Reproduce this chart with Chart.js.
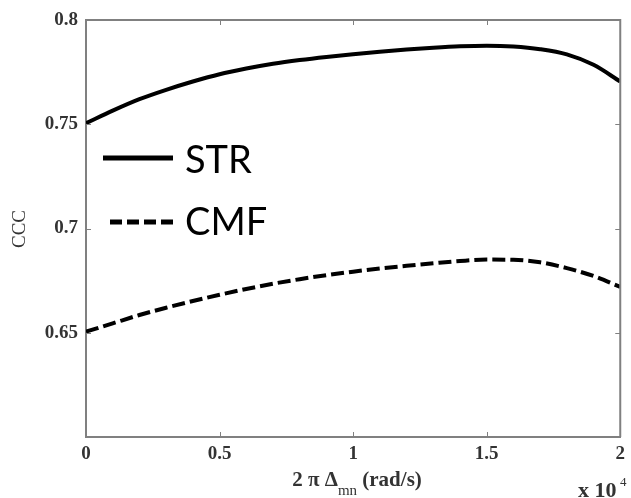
<!DOCTYPE html>
<html>
<head>
<meta charset="utf-8">
<script src="https://cdn.jsdelivr.net/npm/chart.js@4"></script>
<style>
  html, body { margin: 0; padding: 0; background: #fff; }
  #chart { display: block; }
</style>
</head>
<body>
<canvas id="chart" width="631" height="498"></canvas>
<script>
// x values in units of 10^4 rad/s
const xValues = [0, 0.1, 0.2, 0.3, 0.4, 0.5, 0.6, 0.7, 0.8, 0.9, 1.0,
                 1.1, 1.2, 1.3, 1.4, 1.5, 1.6, 1.7, 1.8, 1.9, 2.0];
const strValues = [0.7505, 0.7565, 0.7620, 0.7665, 0.7705, 0.7740, 0.7767, 0.7790, 0.7808, 0.7823, 0.7836,
                   0.7848, 0.7858, 0.7867, 0.7874, 0.7877, 0.7873, 0.7860, 0.7835, 0.7785, 0.7705];
const cmfValues = [0.6505, 0.6545, 0.6585, 0.6620, 0.6652, 0.6682, 0.6710, 0.6735, 0.6757, 0.6776, 0.6793,
                   0.6808, 0.6821, 0.6833, 0.6844, 0.6851, 0.6850, 0.6838, 0.6810, 0.6772, 0.6720];
const xTicks = [0, 0.5, 1, 1.5, 2];
const yTicks = [0.65, 0.7, 0.75, 0.8];
const seriesLabels = ['STR', 'CMF'];

const AXIS_GRAY = '#808080';

const toPoints = (ys) => xValues.map((x, i) => ({ x, y: ys[i] }));

// Draws the box, inward ticks, titles and the in-plot legend.
const decorations = {
    id: 'decorations',
    afterDraw(chart) {
        const { ctx, chartArea: a, scales: { x, y } } = chart;
        ctx.save();

        // top and right border of the box
        ctx.strokeStyle = AXIS_GRAY;
        ctx.lineWidth = 2;
        ctx.beginPath();
        ctx.moveTo(a.left, a.top);
        ctx.lineTo(a.right, a.top);
        ctx.lineTo(a.right, a.bottom);
        ctx.stroke();

        // inward ticks on every side
        ctx.lineWidth = 1;
        ctx.beginPath();
        for (const v of xTicks) {
            const px = Math.round(x.getPixelForValue(v)) + 0.5;
            ctx.moveTo(px, a.bottom); ctx.lineTo(px, a.bottom - 5);
            ctx.moveTo(px, a.top);    ctx.lineTo(px, a.top + 5);
        }
        for (const v of yTicks) {
            const py = Math.round(y.getPixelForValue(v)) + 0.5;
            ctx.moveTo(a.left, py);  ctx.lineTo(a.left + 5, py);
            ctx.moveTo(a.right, py); ctx.lineTo(a.right - 5, py);
        }
        ctx.stroke();

        // y title
        ctx.fillStyle = '#333';
        ctx.font = '19px "Liberation Serif"';
        ctx.textAlign = 'center';
        ctx.textBaseline = 'middle';
        ctx.save();
        ctx.translate(20, 229);
        ctx.rotate(-Math.PI / 2);
        ctx.fillText('CCC', 0, 0);
        ctx.restore();

        // x title: 2 π Δ_mn (rad/s)
        ctx.textAlign = 'left';
        ctx.textBaseline = 'alphabetic';
        const big = 'bold 21px "Liberation Serif"';
        const small = '15px "Liberation Serif"';
        const parts = [
            { t: '2 \u03c0 \u0394', f: big, dy: 0 },
            { t: 'mn', f: small, dy: 9 },
            { t: ' (rad/s)', f: big, dy: 0 }
        ];
        let total = 0;
        for (const p of parts) { ctx.font = p.f; total += ctx.measureText(p.t).width; }
        let cx = 357 - total / 2;
        const base = 486;
        for (const p of parts) {
            ctx.font = p.f;
            ctx.fillText(p.t, cx, base + p.dy);
            cx += ctx.measureText(p.t).width;
        }

        // exponent label x 10^4
        ctx.font = 'bold 22px "Liberation Serif"';
        ctx.fillText('x 10', 578, 497);
        ctx.font = '13px "Liberation Serif"';
        ctx.fillText('4', 620, 486);

        // legend drawn from dataset styles
        const rows = [{ y: 158, x0: 103, x1: 173, ty: 173 }, { y: 222, x0: 110, x1: 173, ty: 235 }];
        chart.data.datasets.forEach((ds, i) => {
            const r = rows[i];
            const dashed = ds.borderDash && ds.borderDash.length;
            ctx.strokeStyle = ds.borderColor;
            ctx.lineWidth = 5;
            ctx.setLineDash(dashed ? [12, 5] : []);
            ctx.beginPath();
            ctx.moveTo(r.x0, r.y);
            ctx.lineTo(r.x1, r.y);
            ctx.stroke();
            ctx.setLineDash([]);
            ctx.fillStyle = '#000';
            ctx.font = '38px Lato';
            ctx.fillText(ds.label, 185, r.ty);
        });

        ctx.restore();
    }
};

new Chart(document.getElementById('chart'), {
    type: 'line',
    data: {
        datasets: [
            { label: seriesLabels[0], data: toPoints(strValues), borderColor: '#000', borderWidth: 4,
              pointRadius: 0, cubicInterpolationMode: 'monotone' },
            { label: seriesLabels[1], data: toPoints(cmfValues), borderColor: '#000', borderWidth: 4,
              borderDash: [13, 5], pointRadius: 0, cubicInterpolationMode: 'monotone' }
        ]
    },
    options: {
        responsive: false,
        animation: false,
        layout: { padding: { top: 20, right: 8, left: 0, bottom: 0 } },
        plugins: { legend: { display: false }, tooltip: { enabled: false } },
        scales: {
            x: {
                type: 'linear', min: 0, max: 2,
                afterBuildTicks: (s) => { s.ticks = xTicks.map(v => ({ value: v })); },
                afterFit: (s) => { s.height = 61; },
                grid: { display: false, drawTicks: false },
                border: { display: true, color: AXIS_GRAY, width: 2 },
                ticks: { color: '#333', font: { family: 'Liberation Serif', size: 19, weight: 'bold' },
                         padding: 6, maxRotation: 0, callback: (v) => String(v) }
            },
            y: {
                type: 'linear', min: 0.6, max: 0.8,
                afterBuildTicks: (s) => { s.ticks = yTicks.map(v => ({ value: v })); },
                afterFit: (s) => { s.width = 86; },
                grid: { display: false, drawTicks: false },
                border: { display: true, color: AXIS_GRAY, width: 2 },
                ticks: { color: '#333', font: { family: 'Liberation Serif', size: 19, weight: 'bold' },
                         padding: 8, callback: (v) => String(v) }
            }
        }
    },
    plugins: [decorations]
});
</script>
</body>
</html>
